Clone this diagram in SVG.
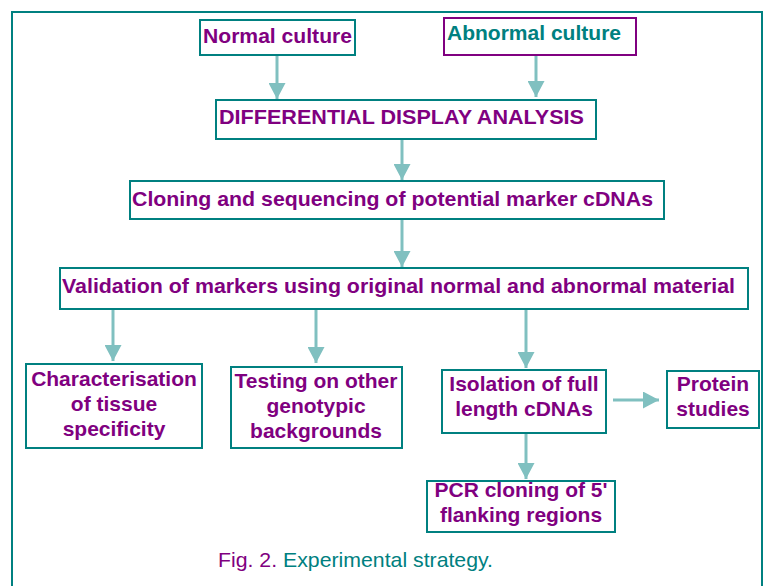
<svg xmlns="http://www.w3.org/2000/svg" width="768" height="586" viewBox="0 0 768 586">
<defs>
<style>
.bx{fill:#fff;stroke:#008080;stroke-width:2}
.bp{fill:#fff;stroke:#800080;stroke-width:2}
.t{font-family:"Liberation Sans",Arial,sans-serif;font-weight:bold;font-size:21px;fill:#800080}
.tt{fill:#008080}
.c{text-anchor:middle}
.ln{stroke:#80C0C0;stroke-width:3;fill:none;marker-end:url(#ah)}
.cap{font-family:"Liberation Sans",Arial,sans-serif;font-size:21px}
</style>
<marker id="ah" viewBox="0 0 10 10" refX="10" refY="5" markerWidth="16" markerHeight="17" markerUnits="userSpaceOnUse" orient="auto" preserveAspectRatio="none">
<path d="M0,0L10,5L0,10z" fill="#80C0C0"/>
</marker>
</defs>
<rect x="0" y="0" width="768" height="586" fill="#fff"/>
<rect x="12" y="12" width="750" height="600" fill="none" stroke="#008080" stroke-width="2"/>
<g id="connectors">
<path class="ln" d="M277,56V99"/>
<path class="ln" d="M536,56V97"/>
<path class="ln" d="M402,140V180"/>
<path class="ln" d="M402,220V267"/>
<path class="ln" d="M113,310V361"/>
<path class="ln" d="M316,310V363"/>
<path class="ln" d="M526,310V368"/>
<path class="ln" d="M613,400H659"/>
<path class="ln" d="M526,434V479"/>
</g>
<g id="normal"><rect class="bx" x="200" y="20" width="155" height="35"/><text class="t" x="203" y="43" textLength="149" lengthAdjust="spacingAndGlyphs">Normal culture</text></g>
<g id="abnormal"><rect class="bp" x="444" y="18" width="192" height="37"/><text class="t tt" x="447" y="40" textLength="174" lengthAdjust="spacingAndGlyphs">Abnormal culture</text></g>
<g id="dda"><rect class="bx" x="216" y="100" width="380" height="39"/><text class="t" x="219" y="124" textLength="365" lengthAdjust="spacingAndGlyphs">DIFFERENTIAL DISPLAY ANALYSIS</text></g>
<g id="cloning"><rect class="bx" x="130" y="181" width="534" height="38"/><text class="t" x="132" y="206" textLength="521" lengthAdjust="spacingAndGlyphs">Cloning and sequencing of potential marker cDNAs</text></g>
<g id="validation"><rect class="bx" x="60" y="268" width="688" height="41"/><text class="t" x="62" y="293" textLength="673" lengthAdjust="spacingAndGlyphs">Validation of markers using original normal and abnormal material</text></g>
<g id="char"><rect class="bx" x="26" y="364" width="176" height="84"/><text class="t c" x="114"><tspan x="114" y="386">Characterisation</tspan><tspan x="114" y="411">of tissue</tspan><tspan x="114" y="436">specificity</tspan></text></g>
<g id="testing"><rect class="bx" x="231" y="367" width="171" height="81"/><text class="t c" x="316"><tspan x="316" y="388">Testing on other</tspan><tspan x="316" y="413">genotypic</tspan><tspan x="316" y="438">backgrounds</tspan></text></g>
<g id="isolation"><rect class="bx" x="442" y="370" width="164" height="63"/><text class="t c" x="524"><tspan x="524" y="391">Isolation of full</tspan><tspan x="524" y="416">length cDNAs</tspan></text></g>
<g id="protein"><rect class="bx" x="667" y="371" width="92" height="57"/><text class="t c" x="713"><tspan x="713" y="391">Protein</tspan><tspan x="713" y="416">studies</tspan></text></g>
<g id="pcr"><rect class="bx" x="427" y="481" width="188" height="51"/><text class="t c" x="521"><tspan x="521" y="497">PCR cloning of 5'</tspan><tspan x="521" y="522">flanking regions</tspan></text></g>
<text class="cap" x="218" y="567" textLength="275" lengthAdjust="spacingAndGlyphs"><tspan fill="#800080">Fig. 2.</tspan><tspan fill="#008080"> Experimental strategy.</tspan></text>
</svg>
